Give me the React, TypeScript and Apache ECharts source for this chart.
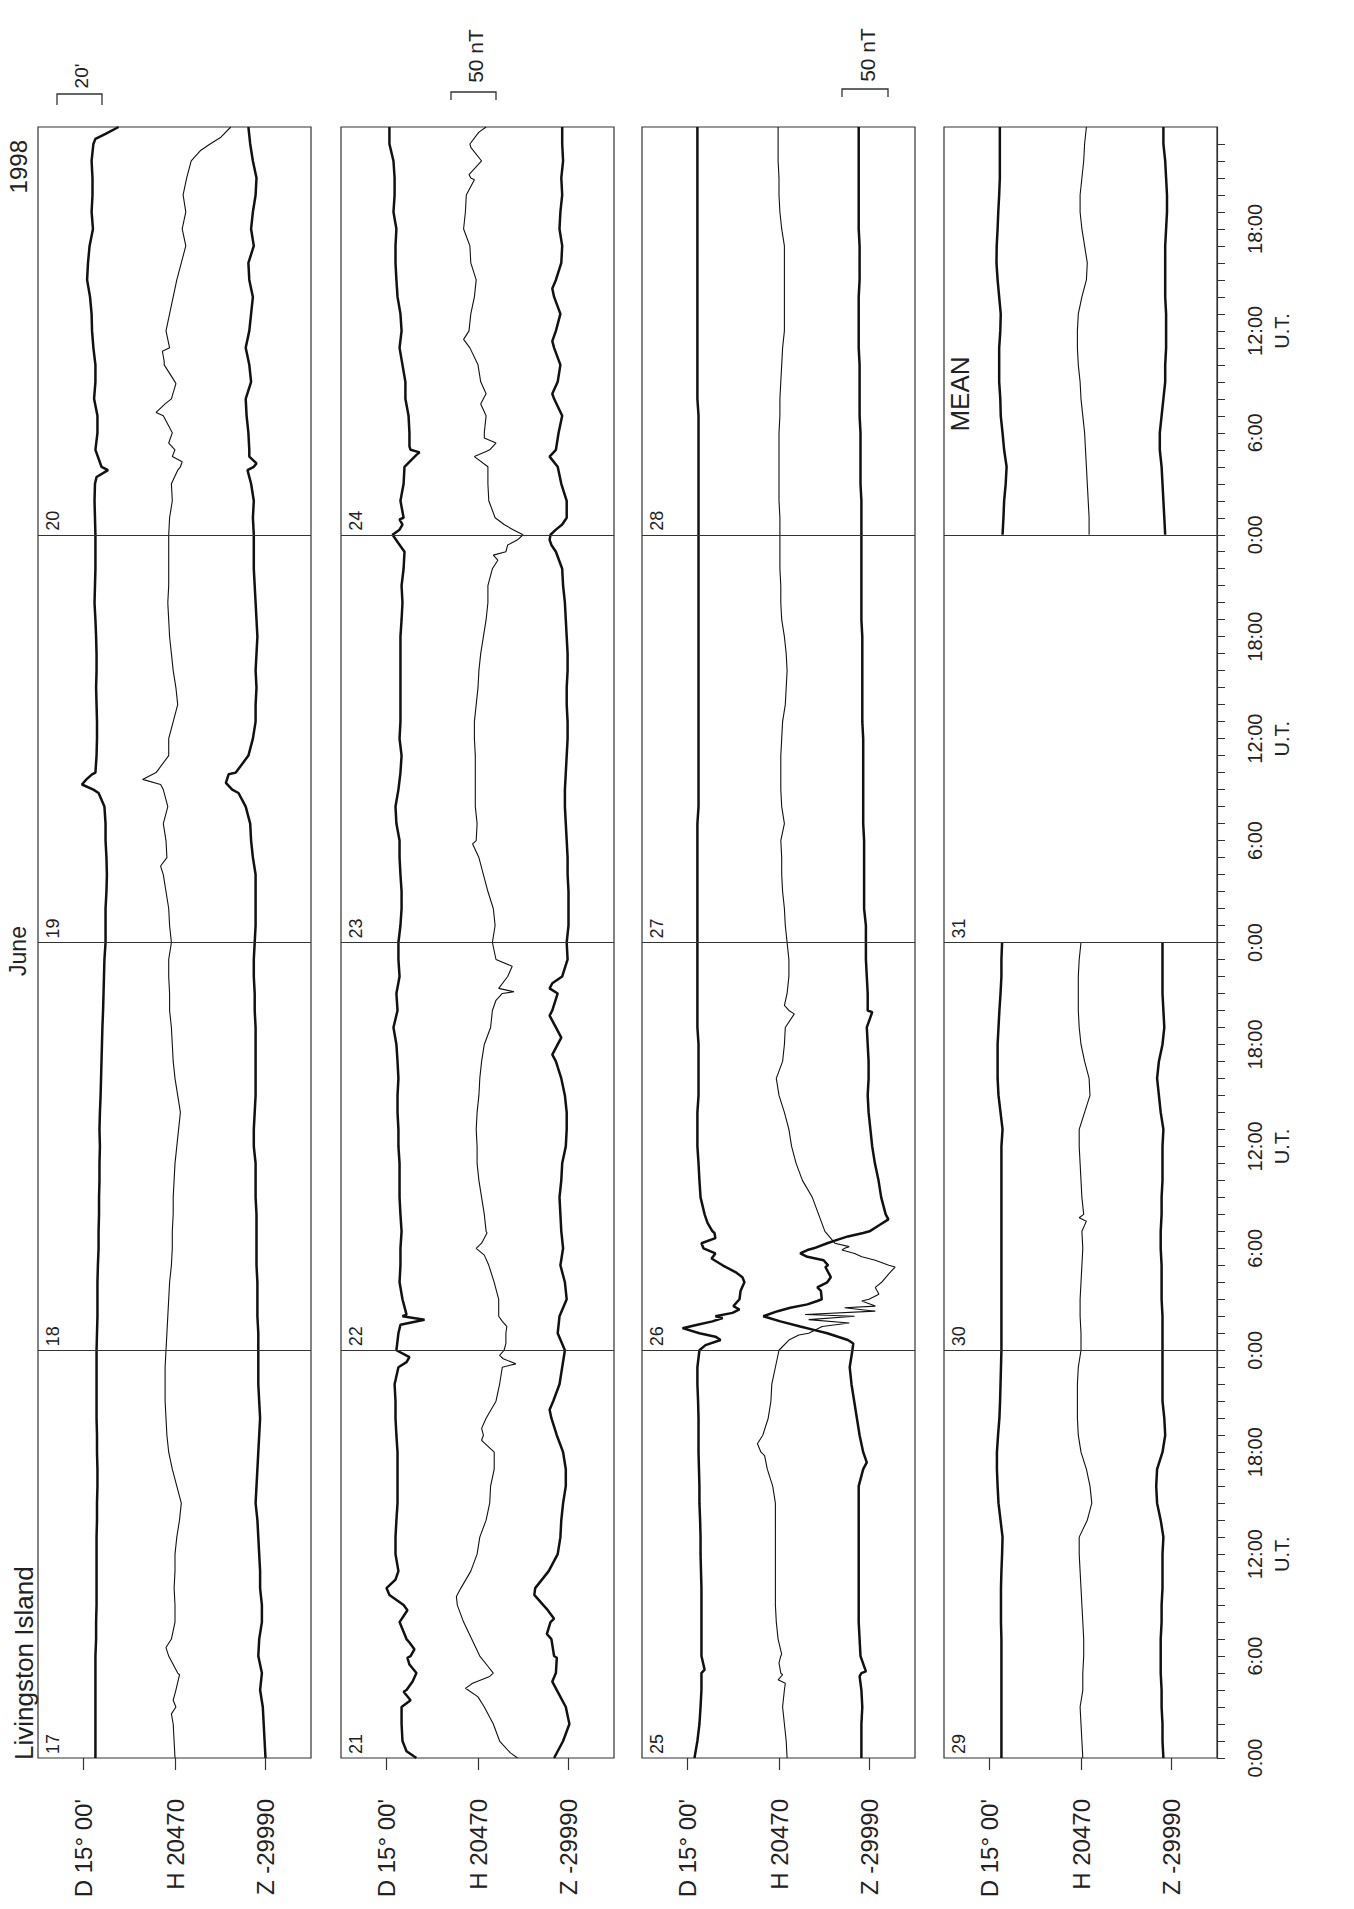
import React, { useEffect, useRef } from "react";
import * as echarts from "echarts";

const FONT = "'Liberation Sans', Arial, Helvetica, sans-serif";

// ---------- categories / labels ----------
const PANEL_DAYS = [
  ["17", "18", "19", "20"],
  ["21", "22", "23", "24"],
  ["25", "26", "27", "28"],
  ["29", "30", "31"],
];
const MEAN_LABEL = "MEAN";
const BASE_LABELS = ["D 15° 00'", "H 20470", "Z -29990"];
const TIME_LABEL_HOURS = [0, 6, 12, 18, 24, 30, 36, 42, 48, 54, 60, 66, 72, 78, 84, 90];
const TITLE = "Livingston Island";
const MONTH = "June";
const YEAR = "1998";
const SCALE_D = "20'";
const SCALE_HZ = "50 nT";

// ---------- data: D in arc-minutes from 15°00', H and Z in nT from the base values ----------
// hourly samples h = 0..96 of each 4-day panel, plus extra samples [hour, value]

// Panel 1: 17-20 June
const P1_D = [
  5.3, 5.3, 5.3, 5.3, 5.3, 5.3, 5.3, 5.6, 5.6, 5.8, 5.8, 5.8, 5.8, 5.8, 6.0, 6.0, 6.2, 6.2, 6.0, 6.0, 5.8, 5.8, 5.8, 5.8,
  5.8, 6.0, 6.2, 6.2, 6.2, 6.4, 6.7, 6.7, 6.9, 6.9, 7.1, 7.1, 7.3, 7.1, 7.3, 7.6, 7.8, 8.0, 8.2, 8.4, 8.7, 8.9, 9.1, 9.3,
  9.8, 9.8, 9.8, 10.2, 10.4, 10.2, 9.8, 9.8, 9.3, 4.4, 5.3, 5.8, 6.0, 6.0, 5.8, 5.6, 5.8, 5.8, 5.6, 5.3, 4.9, 5.1, 5.3, 5.3,
  5.3, 5.1, 4.9, 5.1, 8.0, 5.3, 6.2, 6.2, 4.7, 5.3, 5.3, 4.4, 3.8, 3.6, 2.9, 1.6, 2.0, 2.7, 4.2, 3.6, 4.0, 4.0, 3.6, 4.4, 15.6,
];
const P1_D_X = [[56.8, 6.7], [57.3, -0.7], [57.6, 1.3], [57.9, 3.8], [75.4, 5.8], [75.8, 10.9], [95.3, 5.3], [95.6, 9.8]];
const P1_H = [
  0, -1, -2, 1, 1, 3, -7, -4, 0, 0, -1, 0, 0, 2, 5, 7, 2, -3, -7, -9, -10, -11, -11, -11,
  -10, -9, -8, -7, -6, -4, -3, -3, -2, -2, -1, 0, 2, 4, 6, 3, 0, -2, -3, -4, -6, -6, -7, -7,
  -4, -6, -7, -10, -13, -9, -10, -13, -8, -13, -21, -7, -7, -2, 3, 1, -2, -4, -6, -7, -8, -7, -7, -7,
  -7, -6, -3, -4, 6, 0, -3, -13, -4, 0, -12, -6, -10, -6, -2, 2, 7, 12, 8, 12, 9, 13, 18, 39, 62,
];
const P1_H_X = [
  [2.6, -4], [3.4, -2], [4.9, 5], [6.5, -10], [52.5, -16], [57.3, -16], [57.6, -36], [75.8, 3], [76.3, 8], [76.6, -3],
  [77.4, -7], [79.2, -21], [79.7, -11], [80.9, 1], [82.2, -12], [82.8, -14], [94.6, 28], [95.4, 51],
];
const P1_Z = [
  0, -1, -2, -3, -6, -4, -8, -7, -4, -4, -6, -6, -7, -8, -9, -11, -10, -9, -8, -7, -6, -7, -8, -8,
  -8, -8, -9, -9, -9, -10, -10, -10, -10, -11, -11, -11, -13, -13, -12, -11, -11, -11, -11, -11, -12, -12, -13, -13,
  -12, -11, -11, -11, -11, -14, -16, -17, -22, -37, -33, -19, -14, -11, -11, -10, -11, -10, -9, -10, -11, -12, -13, -13,
  -13, -14, -13, -16, -13, -18, -19, -21, -22, -16, -18, -22, -18, -16, -14, -18, -19, -13, -16, -14, -11, -10, -14, -17, -19,
];
const P1_Z_X = [[56.8, -30], [57.4, -44], [57.9, -41], [75.8, -20], [76.2, -10], [76.6, -18]];

// Panel 2: 21-24 June
const P2_D = [
  13.3, 7.1, 6.7, 6.7, 8.9, 13.3, 10.7, 8.9, 5.8, 7.6, 0, 5.3, 4.0, 4.0, 4.4, 4.9, 4.9, 4.9, 4.9, 4.4, 4.0, 4.0, 3.6, 5.3,
  4.4, 5.3, 7.1, 7.1, 5.8, 6.2, 6.2, 6.7, 6.2, 5.8, 5.8, 5.8, 5.3, 5.3, 4.9, 4.9, 5.3, 4.9, 4.4, 3.1, 4.9, 4.4, 5.8, 5.3,
  5.3, 6.2, 6.7, 6.7, 6.2, 5.8, 5.8, 4.4, 4.0, 5.3, 6.2, 6.7, 5.8, 6.2, 6.2, 6.2, 6.2, 6.2, 6.2, 6.7, 7.1, 6.7, 7.6, 8.0,
  2.7, 7.6, 6.2, 7.6, 8.0, 10.7, 10.2, 9.8, 8.4, 8.4, 7.1, 5.8, 6.7, 6.2, 4.9, 4.4, 4.0, 4.0, 4.4, 3.1, 3.6, 3.6, 3.1, 1.3, 1.3,
];
const P2_D_X = [
  [0.4, 8.9], [3.4, 10.7], [3.9, 7.6], [4.5, 11.6], [5.5, 10.2], [5.9, 9.3], [6.4, 12.4], [6.8, 10.2], [8.7, 9.3],
  [9.6, 1.3], [10.5, 4.0], [23.3, 8.9], [23.6, 10.2], [25.5, 6.2], [25.8, 16.9], [26.1, 8.9], [71.5, 5.3], [72.3, 5.8],
  [72.6, 7.1], [72.9, 5.8], [76.7, 13.3], [76.85, 14.7], [77.2, 10.2],
];
const P2_H = [
  44, 24, 17, 7, -11, 17, 2, -7, -16, -23, -19, -8, -1, 2, 9, 13, 14, 18, 18, 6, 9, 20, 24, 27,
  29, 31, 23, 23, 18, 12, -2, 9, 7, 4, 1, -1, -1, -2, -1, 1, 2, 4, 7, 14, 16, 27, 33, 20,
  16, 19, 17, 11, 6, 1, -2, -1, -3, -3, -3, -3, -4, -4, -2, 0, 1, 3, 6, 9, 11, 11, 16, 31,
  50, 19, 12, 11, 11, 13, 7, 9, 6, 3, 0, -9, -10, -8, -4, -2, -8, -9, -16, -14, -13, -8, 4, -9, 9,
];
const P2_H_X = [
  [0.3, 36], [3.6, 0], [4.1, -14], [4.4, -6], [4.8, 13], [5.4, 11], [9.5, -24], [18.7, 4], [19.4, 4], [23.2, 42],
  [23.5, 28], [23.7, 24], [24.4, 31], [25.4, 32], [25.7, 27], [29.6, 7], [30.3, 4], [30.9, 10], [44.6, 20], [45.1, 40],
  [45.3, 23], [46.6, 38], [53.8, -6], [70.5, 22], [70.8, 17], [71.4, 33], [71.7, 44], [72.3, 39], [72.6, 29], [76.6, -4],
  [76.9, 9], [77.4, 20], [77.7, 7], [79.7, 3], [80.3, 9], [83.5, -16], [92.9, -4], [93.2, -10], [94.8, -8], [95.7, 1],
];
const P2_Z = [
  -16, -6, 1, -3, -13, -14, -16, -19, -20, -28, -37, -22, -12, -9, -8, -6, -3, -3, -6, -13, -19, -17, -10, -7,
  -4, -12, -10, -2, -4, -9, -6, -8, -9, -10, -8, -7, -3, -2, -2, -4, -8, -14, -12, -14, -18, -12, -7, -1,
  -2, 0, 0, 0, -1, -1, -2, -3, -4, -4, -3, -2, -1, -1, -2, -2, -1, -1, -2, -3, -4, -6, -7, -14,
  -20, -2, -2, -8, -12, -14, -11, -7, -16, -12, -9, -16, -14, -9, -16, -14, -8, -7, -10, -9, -7, -8, -6, -7, -7,
];
const P2_Z_X = [
  [4.5, -18], [5.9, -13], [7.3, -24], [8.2, -16], [8.7, -23], [9.6, -38], [20.5, -21], [41.4, -18], [42.4, -8],
  [43.7, -21], [45.3, -21], [45.6, -18], [71.4, -19], [71.7, -21], [72.3, -14], [72.6, -7], [76.6, -21], [80.3, -18],
  [83.4, -18], [86.5, -18],
];

// Panel 3: 25-28 June
const P3_D = [
  3.1, 4.4, 5.3, 5.8, 6.2, 6.2, 6.2, 6.2, 6.2, 6.2, 6.2, 6.0, 5.8, 5.8, 5.6, 5.3, 5.3, 5.1, 4.9, 4.9, 4.9, 4.7, 4.4, 4.4,
  5.3, 5.3, 12.4, 23.1, 25.3, 15.6, 7.1, 11.1, 7.6, 5.8, 5.3, 4.9, 4.4, 4.4, 4.4, 4.9, 4.9, 4.9, 4.9, 4.4, 4.4, 4.4, 4.4, 4.4,
  4.4, 4.4, 4.4, 4.4, 4.4, 4.4, 4.4, 4.4, 4.9, 4.9, 4.9, 4.9, 4.9, 4.9, 4.9, 4.9, 4.9, 4.9, 4.9, 4.9, 4.9, 4.9, 4.9, 4.9,
  4.9, 4.9, 4.9, 4.9, 4.9, 4.9, 4.9, 4.9, 4.4, 4.4, 4.4, 4.4, 4.4, 4.4, 4.4, 4.4, 4.4, 4.4, 4.4, 4.4, 4.4, 4.4, 4.4, 4.4, 4.4,
];
const P3_D_X = [
  [5.2, 7.6], [24.3, 8.0], [24.6, 14.7], [24.8, 12.4], [25.3, -2.2], [25.5, 4.4], [25.7, 11.1], [25.9, 15.6], [26.2, 20.0],
  [26.4, 23.1], [26.6, 20.4], [27.5, 23.6], [28.3, 24.4], [28.6, 21.3], [29.4, 10.7], [29.7, 12.4], [30.3, 6.2],
  [30.6, 12.4], [30.9, 12.0], [31.5, 8.9],
];
const P3_H = [
  9, 8, 6, 4, 6, 2, 2, -1, -3, -4, -4, -4, -4, -4, -4, -4, -7, -13, -20, -18, -12, -9, -8, -4,
  0, 33, 84, 100, 114, 122, 73, 51, 44, 37, 26, 19, 14, 11, 6, 0, -3, 4, 6, 7, 11, 9, 11, 11,
  9, 7, 6, 4, 3, 3, 2, 6, 3, 2, 2, 2, 3, 4, 7, 8, 9, 8, 6, 3, 2, 2, 1, 1,
  1, 1, 0, 0, 0, 0, 0, 1, 1, 2, 3, 4, 6, 6, 6, 6, 6, 6, 3, 1, 0, 0, -1, -1, -1,
];
const P3_H_X = [
  [4.4, 7], [4.6, -1], [4.9, 4], [5.6, 0], [6.1, 3], [17.8, -16], [18.5, -24], [24.6, 11], [24.9, 22], [25.4, 48],
  [25.6, 78], [25.8, 33], [26.1, 29], [26.3, 107], [26.5, 73], [26.6, 107], [26.9, 92], [27.3, 111], [27.7, 107],
  [28.5, 122], [28.9, 129], [29.3, 107], [29.5, 92], [29.7, 84], [29.9, 70], [30.1, 78], [30.3, 62], [30.5, 59],
  [43.8, 17], [44.3, 6],
];
const P3_Z = [
  -9, -9, -9, -8, -9, -9, -10, -11, -12, -12, -12, -12, -12, -12, -12, -12, -12, -7, -7, -11, -14, -17, -20, -22,
  -19, -47, -118, -53, -47, -46, -62, 0, 18, 13, 10, 6, 3, 1, -1, -2, -1, -1, -2, -3, -2, -2, -3, -4,
  -4, -4, -6, -6, -6, -6, -6, -7, -7, -7, -7, -7, -7, -8, -8, -8, -8, -8, -8, -9, -9, -9, -9, -9,
  -9, -9, -9, -10, -10, -10, -10, -11, -11, -11, -11, -12, -12, -12, -12, -11, -11, -11, -12, -12, -12, -12, -12, -12, -12,
];
const P3_Z_X = [
  [4.8, -11], [5.1, -4], [17.4, -3], [24.4, -18], [24.6, -24], [25.2, -62], [25.4, -77], [25.7, -99], [26.3, -102],
  [26.5, -88], [26.7, -69], [26.9, -58], [27.5, -54], [27.7, -58], [28.3, -43], [28.9, -49], [29.3, -51], [29.5, -69],
  [29.7, -77], [29.9, -69], [30.3, -47], [30.5, -36], [30.7, -24], [30.9, -7], [31.4, 12], [31.7, 21], [43.9, 3],
];

// Panel 4: 29-30 June (h = 0..48)
const P4_D = [
  5.3, 5.3, 5.3, 5.3, 5.3, 5.3, 5.3, 5.3, 5.1, 5.1, 5.1, 5.3, 5.6, 5.8, 4.9, 4.0, 3.6, 3.3, 3.3, 3.8, 4.4, 4.7, 4.9, 5.1,
  5.3, 5.3, 5.3, 5.3, 5.3, 5.3, 5.3, 5.3, 5.3, 5.3, 5.3, 5.3, 5.3, 5.8, 4.9, 4.0, 3.6, 3.6, 3.6, 4.0, 4.4, 4.9, 5.3, 5.3, 5.6,
];
const P4_H = [
  2, 1, 0, -1, 2, 2, 3, 3, 2, 1, 0, -1, -2, -2, 7, 12, 10, 6, 0, -3, -4, -4, -4, -3,
  0, 0, -1, -1, 0, 1, 2, 1, 3, 1, 0, -1, -2, -2, 4, 10, 9, 4, 0, -2, -3, -3, -3, -2, 0,
];
const P4_H_X = [[31.6, 6], [31.8, -2]];
const P4_Z = [
  -9, -10, -10, -11, -11, -12, -12, -12, -11, -11, -10, -10, -10, -9, -12, -16, -17, -16, -10, -7, -8, -10, -10, -10,
  -10, -10, -10, -11, -11, -11, -12, -12, -11, -11, -10, -10, -10, -9, -12, -14, -16, -14, -10, -8, -9, -10, -10, -10, -10,
];

// Mean day (hours 0..24)
const MEAN_D = [5.8, 6.2, 6.5, 7.2, 7.6, 6.5, 5.8, 5.0, 4.8, 4.3, 4.3, 4.3, 4.8, 5.0, 4.3, 3.6, 3.1, 3.2, 3.6, 3.9, 4.3, 4.6, 4.6, 4.6, 4.6];
const MEAN_H = [9, 9, 8, 7, 6, 5, 4, 2, 0, -1, -3, -4, -4, -3, 1, 6, 7, 4, 1, -1, -1, 1, 3, 4, 6];
const MEAN_Z = [-7, -8, -9, -10, -11, -13, -13, -11, -9, -7, -7, -6, -6, -6, -7, -7, -7, -7, -6, -5, -5, -6, -7, -9, -9];

// ---------- layout ----------
const GRID_LEFT = [38, 341, 642, 944];
const GRID_TOP = 127;
const GRID_W = 273;
const GRID_H = 1631;
const PX_PER_UNIT = [2.25, 0.9, 0.9]; // D: px per arc-minute, H/Z: px per nT
const BASE_PX = [45.5, 137, 227.5];

function merge(hourly: number[], extra: number[][], offset = 0) {
  const pts: number[][] = hourly.map((v, i) => [i + offset, v]);
  for (const e of extra) pts.push([e[0], e[1]]);
  pts.sort((a, b) => a[0] - b[0]);
  return pts.map((p) => [p[1], p[0]]);
}

const PANELS = [
  [merge(P1_D, P1_D_X), merge(P1_H, P1_H_X), merge(P1_Z, P1_Z_X)],
  [merge(P2_D, P2_D_X), merge(P2_H, P2_H_X), merge(P2_Z, P2_Z_X)],
  [merge(P3_D, P3_D_X), merge(P3_H, P3_H_X), merge(P3_Z, P3_Z_X)],
  [merge(P4_D, []), merge(P4_H, P4_H_X), merge(P4_Z, [])],
];
const MEAN_SERIES = [merge(MEAN_D, [], 72), merge(MEAN_H, [], 72), merge(MEAN_Z, [], 72)];

function buildOption() {
  const grid: any[] = [];
  const xAxis: any[] = [];
  const yAxis: any[] = [];
  const series: any[] = [];
  const graphic: any[] = [];

  const tickHours: number[] = [];
  for (let h = 0; h < 96; h++) tickHours.push(h);

  for (let p = 0; p < 4; p++) {
    grid.push({
      left: GRID_LEFT[p],
      top: GRID_TOP,
      width: GRID_W,
      height: GRID_H,
      show: true,
      borderColor: "#333",
      borderWidth: 1.2,
      backgroundColor: "transparent",
      containLabel: false,
      outerBoundsMode: "none",
    });
    for (let c = 0; c < 3; c++) {
      const min = -BASE_PX[c] / PX_PER_UNIT[c];
      const max = min + GRID_W / PX_PER_UNIT[c];
      xAxis.push({
        type: "value",
        gridIndex: p,
        min,
        max,
        position: "bottom",
        axisLine: { show: false, onZero: false },
        splitLine: { show: false },
        axisTick: { show: true, inside: false, length: 12, customValues: [0], lineStyle: { color: "#333", width: 1.2 } },
        axisLabel: {
          show: true,
          customValues: [0],
          rotate: 90,
          margin: 41,
          fontSize: 24,
          fontFamily: FONT,
          color: "#222",
          formatter: () => BASE_LABELS[c],
        },
      });
    }
    const isLast = p === 3;
    yAxis.push({
      type: "value",
      gridIndex: p,
      min: 0,
      max: 96,
      interval: 1,
      show: isLast,
      position: "right",
      axisLine: { show: true, onZero: false, lineStyle: { color: "#333", width: 1.2 } },
      splitLine: { show: false },
      axisTick: { show: true, inside: false, length: 8, customValues: tickHours, lineStyle: { color: "#333", width: 1 } },
      axisLabel: {
        show: true,
        customValues: TIME_LABEL_HOURS,
        rotate: 90,
        margin: 24,
        fontSize: 20,
        lineHeight: 27,
        fontFamily: FONT,
        color: "#222",
        formatter: (v: number) => {
          const h = Math.round(v) % 24;
          return h === 12 ? "12:00\nU.T." : h + ":00";
        },
      },
    });

    for (let c = 0; c < 3; c++) {
      const s: any = {
        type: "line",
        xAxisIndex: p * 3 + c,
        yAxisIndex: p,
        data: PANELS[p][c],
        showSymbol: false,
        symbol: "none",
        silent: true,
        lineStyle: { color: "#111", width: c === 1 ? 1.1 : 2.5 },
        z: 3,
      };
      if (c === 0) {
        s.markLine = {
          silent: true,
          symbol: ["none", "none"],
          label: { show: false },
          lineStyle: { color: "#333", width: 1.1, type: "solid" },
          data: [{ yAxis: 24 }, { yAxis: 48 }, { yAxis: 72 }],
        };
      }
      series.push(s);
    }
    if (isLast) {
      for (let c = 0; c < 3; c++) {
        series.push({
          type: "line",
          xAxisIndex: p * 3 + c,
          yAxisIndex: p,
          data: MEAN_SERIES[c],
          showSymbol: false,
          symbol: "none",
          silent: true,
          lineStyle: { color: "#111", width: c === 1 ? 1.1 : 2.5 },
          z: 3,
        });
      }
    }

    // day numbers
    const days = PANEL_DAYS[p];
    for (let d = 0; d < days.length; d++) {
      graphic.push({
        type: "text",
        x: GRID_LEFT[p] + 15,
        y: GRID_TOP + GRID_H * (1 - d / 4) - 4,
        rotation: Math.PI / 2,
        style: {
          text: days[d],
          font: `18px ${FONT}`,
          fill: "#222",
          textAlign: "left",
          align: "left",
          textVerticalAlign: "middle",
          verticalAlign: "middle",
        },
      });
    }
  }

  const txt = (text: string, x: number, y: number, size: number, align: string) => ({
    type: "text",
    x,
    y,
    rotation: Math.PI / 2,
    style: {
      text,
      font: `${size}px ${FONT}`,
      fill: "#222",
      textAlign: align,
      align,
      textVerticalAlign: "middle",
      verticalAlign: "middle",
    },
  });

  graphic.push(txt(MEAN_LABEL, GRID_LEFT[3] + 16, 394, 26, "center"));
  graphic.push(txt(TITLE, 24, 1760, 26, "left"));
  graphic.push(txt(MONTH, 18, 951, 23, "center"));
  graphic.push(txt(YEAR, 18, 140, 24, "right"));

  // scale brackets
  const bracket = (x0: number, x1: number, yTop: number, yBot: number) => ({
    type: "polyline",
    shape: { points: [[x0, yBot], [x0, yTop], [x1, yTop], [x1, yBot]] },
    style: { stroke: "#333", lineWidth: 1.3, fill: null },
  });
  graphic.push(bracket(57, 102, 94, 105));
  graphic.push(txt(SCALE_D, 81, 76, 19, "center"));
  graphic.push(bracket(451, 496, 92, 100));
  graphic.push(txt(SCALE_HZ, 475, 56, 21, "center"));
  graphic.push(bracket(842, 888, 89, 97));
  graphic.push(txt(SCALE_HZ, 867, 55, 21, "center"));

  return {
    animation: false,
    backgroundColor: "#ffffff",
    grid,
    xAxis,
    yAxis,
    series,
    graphic,
  };
}

export default function App() {
  const ref = useRef<HTMLDivElement | null>(null);
  useEffect(() => {
    if (!ref.current) return;
    const chart = echarts.init(ref.current, undefined, { renderer: "svg" });
    chart.setOption(buildOption() as any);
    return () => {
      chart.dispose();
    };
  }, []);
  return (
    <div
      ref={ref}
      style={{ position: "absolute", left: 0, top: 0, width: 1354, height: 1909, background: "#fff" }}
    />
  );
}
